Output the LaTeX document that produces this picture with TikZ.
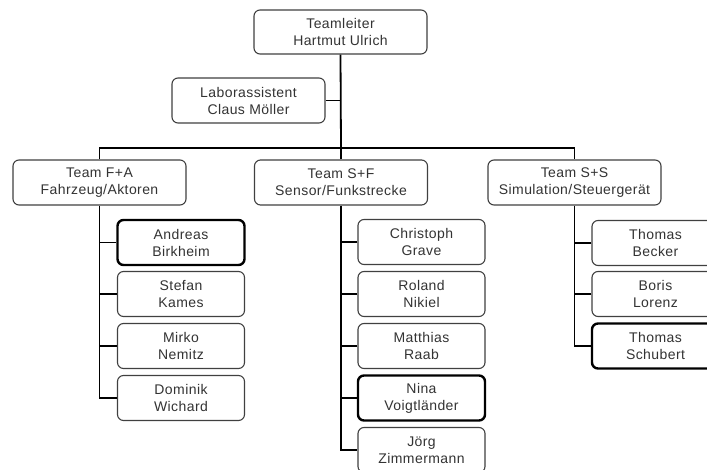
\documentclass[tikz,border=0pt]{standalone}
\usepackage{fontspec}
\setmainfont{Liberation Sans}[LetterSpace=3]
\begin{document}
\begin{tikzpicture}[x=1pt,y=-1pt,
  box/.style={draw=black!75,line width=1.1pt,rounded corners=6pt,fill=white,
    align=center,inner sep=0pt,text=black!80,
    font=\fontsize{14}{17}\selectfont},
  teambox/.style={box,minimum width=173pt,minimum height=45pt},
  person/.style={box,minimum width=127pt,minimum height=45pt},
  lead/.style={line width=2.4pt,draw=black},
  link/.style={draw=black,line width=1.8pt}]
\useasboundingbox (0,0) rectangle (707,470);

% head and assistant
\node[teambox,minimum height=44pt] (head) at (340.5,32) {Teamleiter\\Hartmut Ulrich};
\node[box,minimum width=153pt,minimum height=45pt] (lab) at (248.5,100.5) {Laborassistent\\Claus Möller};

% teams
\node[teambox] (fa) at (99.5,182.5) {Team F+A\\Fahrzeug/Aktoren};
\node[teambox] (sf) at (341,182.5) {Team S+F\\Sensor/Funkstrecke};
\node[teambox] (ss) at (574.5,182.5) {Team S+S\\Simulation/Steuergerät};

% members F+A
\node[person,lead] (fa1) at (181,242.5) {Andreas\\Birkheim};
\node[person] (fa2) at (181,294) {Stefan\\Kames};
\node[person] (fa3) at (181,346) {Mirko\\Nemitz};
\node[person] (fa4) at (181,398) {Dominik\\Wichard};

% members S+F
\node[person] (sf1) at (421.5,242) {Christoph\\Grave};
\node[person] (sf2) at (421.5,294) {Roland\\Nikiel};
\node[person] (sf3) at (421.5,346) {Matthias\\Raab};
\node[person,lead] (sf4) at (421.5,398) {Nina\\Voigtländer};
\node[person] (sf5) at (421.5,450) {Jörg\\Zimmermann};

% members S+S
\node[person] (ss1) at (655.5,243) {Thomas\\Becker};
\node[person] (ss2) at (655.5,294) {Boris\\Lorenz};
\node[person,lead] (ss3) at (655.5,346) {Thomas\\Schubert};

% connectors
\coordinate (bar) at (341,148);
\draw[link] (head.south) -- (bar);
\draw[link] (lab.east) -- (lab.east -| head.south);
\draw[link] (fa.north) |- (bar) -| (ss.north);
\draw[link] (sf.north) -- (sf.north |- bar);

\draw[link] (fa.south) |- (fa4.west);
\foreach \m in {fa1,fa2,fa3}
  \draw[link] (\m.west) -- (\m.west -| fa.south);

\draw[link] (sf.south) |- (sf5.west);
\foreach \m in {sf1,sf2,sf3,sf4}
  \draw[link] (\m.west) -- (\m.west -| sf.south);

\draw[link] (ss.south) |- (ss3.west);
\foreach \m in {ss1,ss2}
  \draw[link] (\m.west) -- (\m.west -| ss.south);
\end{tikzpicture}
\end{document}
